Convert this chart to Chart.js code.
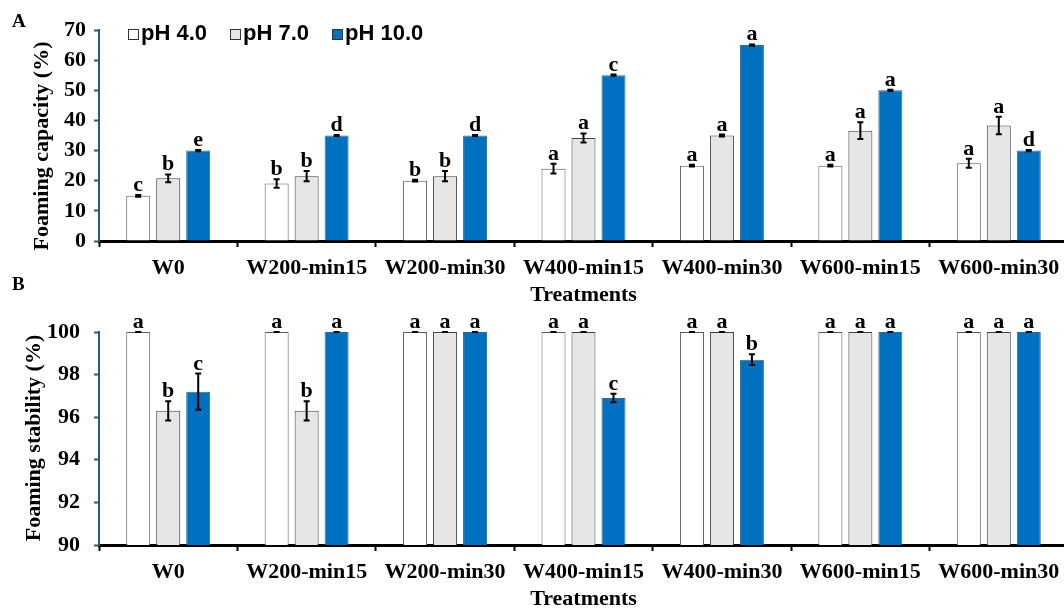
<!DOCTYPE html>
<html>
<head>
<meta charset="utf-8">
<script src="https://cdn.jsdelivr.net/npm/chart.js@4.4.0/dist/chart.umd.min.js"></script>
<style>
    html, body { margin: 0; padding: 0; background: #fff; overflow: hidden; width: 1064px; height: 610px; }
    .panel { position: absolute; left: 0; }
    #topBox { top: 0; }
    #bottomBox { top: 270px; }
</style>
</head>
<body>
<div class="panel" id="topBox"><canvas id="capacityChart" width="1068" height="309"></canvas></div>
<div class="panel" id="bottomBox"><canvas id="stabilityChart" width="1068" height="343"></canvas></div>
<script>
// Данные
const treatments = ['W0', 'W200-min15', 'W200-min30', 'W400-min15', 'W400-min30', 'W600-min15', 'W600-min30'];
const seriesLabels = ['pH 4.0', 'pH 7.0', 'pH 10.0'];

// A: Foaming capacity (%)
const capacityPH4 = [15, 19.1, 20, 24, 25, 25, 25.8];
const capacityPH7 = [20.8, 21.5, 21.5, 34.2, 35, 36.6, 38.3];
const capacityPH10 = [30, 35, 35, 55, 65, 50, 30];
const capacityErrPH4 = [0.3, 1.4, 0.3, 1.6, 0.3, 0.3, 1.5];
const capacityErrPH7 = [1.3, 1.7, 1.7, 1.5, 0.3, 2.8, 2.9];
const capacityErrPH10 = [0.2, 0.2, 0.2, 0.2, 0.2, 0.2, 0.2];
const capacityLetPH4 = ['c', 'b', 'b', 'a', 'a', 'a', 'a'];
const capacityLetPH7 = ['b', 'b', 'b', 'a', 'a', 'a', 'a'];
const capacityLetPH10 = ['e', 'd', 'd', 'c', 'a', 'a', 'd'];
const capacityTicks = [0, 10, 20, 30, 40, 50, 60, 70];

// B: Foaming stability (%)
const stabilityPH4 = [100, 100, 100, 100, 100, 100, 100];
const stabilityPH7 = [96.3, 96.3, 100, 100, 100, 100, 100];
const stabilityPH10 = [97.2, 100, 100, 96.9, 98.7, 100, 100];
const stabilityErrPH4 = [0, 0, 0, 0, 0, 0, 0];
const stabilityErrPH7 = [0.45, 0.45, 0, 0, 0, 0, 0];
const stabilityErrPH10 = [0.85, 0, 0, 0.2, 0.25, 0, 0];
const stabilityLetPH4 = ['a', 'a', 'a', 'a', 'a', 'a', 'a'];
const stabilityLetPH7 = ['b', 'b', 'a', 'a', 'a', 'a', 'a'];
const stabilityLetPH10 = ['c', 'a', 'a', 'c', 'b', 'a', 'a'];
const stabilityTicks = [90, 92, 94, 96, 98, 100];

// Стили
const fills = ['#ffffff', '#e7e6e6', '#0070c0'];
const borders = ['#5a5a5a', '#404040', '#2e6a9e'];
const axisBlue = '#1f5f80';
const serif = '"Liberation Serif", "Times New Roman", serif';
const sans = '"Liberation Sans", Arial, sans-serif';

// Планки погрешностей и буквы значимости
const errorBarsPlugin = {
    id: 'errorBars',
    afterDatasetsDraw(chart) {
        const ctx = chart.ctx;
        const yScale = chart.scales.y;
        ctx.save();
        chart.data.datasets.forEach((ds, di) => {
            const meta = chart.getDatasetMeta(di);
            meta.data.forEach((bar, i) => {
                const v = ds.data[i];
                const e = ds.errors[i];
                const yTop = yScale.getPixelForValue(v + e);
                const yBot = yScale.getPixelForValue(v - e);
                ctx.strokeStyle = '#000';
                ctx.lineWidth = 2;
                ctx.beginPath();
                ctx.moveTo(bar.x, yTop); ctx.lineTo(bar.x, yBot);
                ctx.moveTo(bar.x - 3, yTop); ctx.lineTo(bar.x + 3, yTop);
                ctx.moveTo(bar.x - 3, yBot); ctx.lineTo(bar.x + 3, yBot);
                ctx.stroke();
                ctx.fillStyle = '#000';
                ctx.font = 'bold 22px ' + serif;
                ctx.textAlign = 'center';
                ctx.textBaseline = 'alphabetic';
                ctx.fillText(ds.letters[i], bar.x, yTop - 4);
            });
        });
        ctx.restore();
    }
};

// Подписи панели, заголовок оси Y, легенда
const extrasPlugin = {
    id: 'extras',
    afterDraw(chart, args, opts) {
        const ctx = chart.ctx;
        ctx.save();
        ctx.fillStyle = '#000';
        ctx.font = 'bold 19px ' + serif;
        ctx.textAlign = 'left';
        ctx.textBaseline = 'alphabetic';
        ctx.fillText(opts.panel, opts.panelX, opts.panelY);

        ctx.save();
        ctx.translate(opts.titleX, opts.titleY);
        ctx.rotate(-Math.PI / 2);
        ctx.font = 'bold 22px ' + serif;
        ctx.textAlign = 'center';
        ctx.textBaseline = 'middle';
        ctx.fillText(opts.title, 0, 0);
        ctx.restore();

        if (opts.legend) {
            ctx.font = 'bold 22px ' + sans;
            ctx.textBaseline = 'middle';
            let x = opts.legendX;
            chart.data.datasets.forEach(ds => {
                ctx.fillStyle = ds.backgroundColor;
                ctx.fillRect(x, opts.legendY - 5, 10, 10);
                ctx.strokeStyle = '#333';
                ctx.lineWidth = 1;
                ctx.strokeRect(x + 0.5, opts.legendY - 4.5, 10, 10);
                ctx.fillStyle = '#000';
                ctx.fillText(ds.label, x + 13, opts.legendY);
                x += 13 + ctx.measureText(ds.label).width + 23;
            });
        }
        ctx.restore();
    }
};

function makeDatasets(values, errors, letters) {
    return values.map((vals, i) => ({
        label: seriesLabels[i],
        data: vals,
        errors: errors[i],
        letters: letters[i],
        backgroundColor: fills[i],
        borderColor: borders[i],
        borderWidth: 1,
        categoryPercentage: 0.65,
        barPercentage: 0.8
    }));
}

function renderChart(canvasId, cfg) {
    const ctx = document.getElementById(canvasId).getContext('2d');
    return new Chart(ctx, {
        type: 'bar',
        data: {
            labels: treatments,
            datasets: makeDatasets(cfg.values, cfg.errors, cfg.letters)
        },
        options: {
            responsive: false,
            animation: false,
            layout: { padding: { top: cfg.padTop, left: 0, right: 0, bottom: 0 } },
            plugins: {
                legend: { display: false },
                tooltip: { enabled: false },
                extras: cfg.extras
            },
            scales: {
                x: {
                    grid: { drawOnChartArea: false, offset: true, tickLength: 6, tickWidth: 2, tickColor: '#000' },
                    border: { color: '#000', width: 3 },
                    ticks: { color: '#000', font: { family: serif, size: 22, weight: 'bold' }, padding: 8, maxRotation: 0, autoSkip: false },
                    title: { display: true, text: 'Treatments', color: '#000', font: { family: serif, size: 22, weight: 'bold' }, padding: 0 },
                    afterFit: s => { s.height = 68; }
                },
                y: {
                    min: cfg.ticks[0],
                    max: cfg.ticks[cfg.ticks.length - 1],
                    afterBuildTicks: s => { s.ticks = cfg.ticks.map(v => ({ value: v })); },
                    ticks: { color: '#000', font: { family: serif, size: 22, weight: 'bold' }, padding: cfg.yPad },
                    grid: { drawOnChartArea: false, tickLength: 5, tickWidth: 2, tickColor: axisBlue },
                    border: { color: axisBlue, width: 2 },
                    afterFit: s => { s.width = 99; }
                }
            }
        },
        plugins: [errorBarsPlugin, extrasPlugin]
    });
}

renderChart('capacityChart', {
    values: [capacityPH4, capacityPH7, capacityPH10],
    errors: [capacityErrPH4, capacityErrPH7, capacityErrPH10],
    letters: [capacityLetPH4, capacityLetPH7, capacityLetPH10],
    ticks: capacityTicks,
    padTop: 30,
    yPad: 8,
    extras: { panel: 'A', panelX: 12, panelY: 27, title: 'Foaming capacity (%)', titleX: 42, titleY: 146,
              legend: true, legendX: 128, legendY: 34 }
});

renderChart('stabilityChart', {
    values: [stabilityPH4, stabilityPH7, stabilityPH10],
    errors: [stabilityErrPH4, stabilityErrPH7, stabilityErrPH10],
    letters: [stabilityLetPH4, stabilityLetPH7, stabilityLetPH10],
    ticks: stabilityTicks,
    padTop: 62,
    yPad: 14,
    extras: { panel: 'B', panelX: 12, panelY: 20, title: 'Foaming stability (%)', titleX: 34, titleY: 168,
              legend: false }
});
</script>
</body>
</html>
